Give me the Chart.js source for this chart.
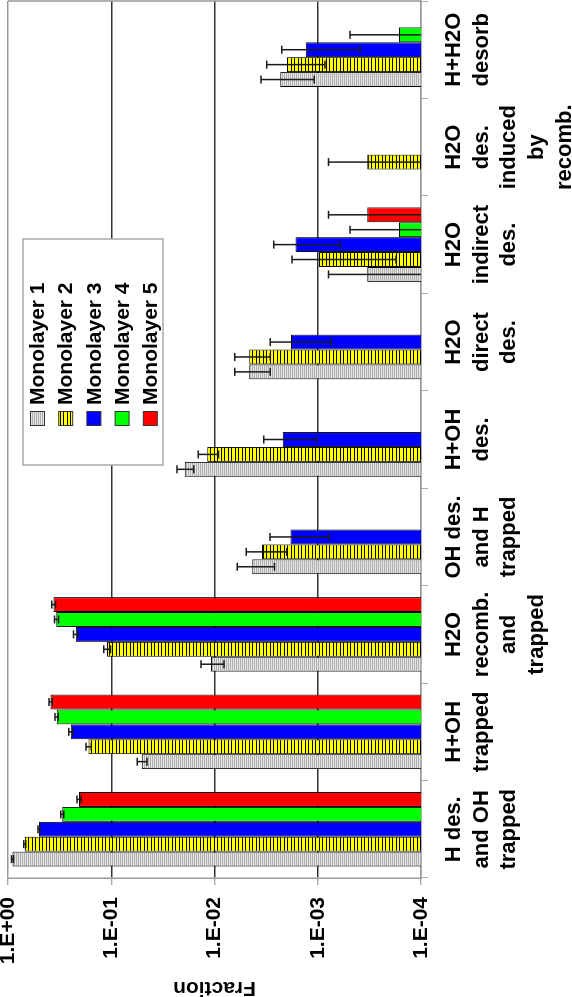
<!DOCTYPE html>
<html>
<head>
<meta charset="utf-8">
<style>
  html, body { margin: 0; padding: 0; background: #fff; overflow: hidden; }
  /* chart is drawn landscape and turned a quarter turn, like the original figure */
  #wrap { position: absolute; left: 0; top: 0; width: 997px; height: 572px;
          transform-origin: 0 0; transform: translate(0, 997px) rotate(-90deg); }
  canvas { display: block; }
</style>
<script src="https://cdn.jsdelivr.net/npm/chart.js@4.4.1/dist/chart.umd.min.js"></script>
</head>
<body>
<div id="wrap"><canvas id="fractionChart" width="997" height="572"></canvas></div>
<script>
// categories (multi-line labels)
const categories = [
  ["H des.", "and OH", "trapped"],
  ["H+OH", "trapped"],
  ["H2O", "recomb.", "and", "trapped"],
  ["OH des.", "and H", "trapped"],
  ["H+OH", "des."],
  ["H2O", "direct", "des."],
  ["H2O", "indirect", "des."],
  ["H2O", "des.", "induced", "by", "recomb."],
  ["H+H2O", "desorb"],
]

const seriesNames = ["Monolayer 1", "Monolayer 2", "Monolayer 3", "Monolayer 4", "Monolayer 5"]

// fractions per monolayer
const ml1 = [0.904, 0.0506, 0.0108, 0.00432, 0.01946, 0.00462, 0.000331, null, 0.00231]
const ml2 = [0.687, 0.166, 0.110, 0.00346, 0.01174, 0.00462, 0.000975, 0.000331, 0.00198]
const ml3 = [0.502, 0.247, 0.221, 0.00184, 0.00218, 0.00182, 0.00164, null, 0.00131]
const ml4 = [0.298, 0.338, 0.340, null, null, null, 0.000163, null, 0.000163]
const ml5 = [0.205, 0.387, 0.362, null, null, null, 0.000331, null, null]

// +/- error on each value
const err1 = [0.02, 0.0055, 0.0027, 0.0017, 0.0036, 0.00174, 0.000454, null, 0.00123]
const err2 = [0.015, 0.010, 0.0081, 0.00146, 0.0026, 0.00174, 0.0008, 0.000454, 0.00113]
const err3 = [0.01, 0.011, 0.0114, 0.00106, 0.00115, 0.00107, 0.00103, null, 0.00092]
const err4 = [0.01, 0.0128, 0.015, null, null, null, 0.000324, null, 0.000324]
const err5 = [0.01, 0.0147, 0.0145, null, null, null, 0.000454, null, null]

const tickValues = [1e-4, 1e-3, 1e-2, 1e-1, 1]
const tickLabels = ["1.E-04", "1.E-03", "1.E-02", "1.E-01", "1.E+00"]

const FONT = "'Liberation Sans', Arial, Helvetica, sans-serif"

function stripes(base, line, period, rows) {
  const c = document.createElement("canvas")
  c.width = 4
  c.height = period
  const g = c.getContext("2d")
  g.fillStyle = base
  g.fillRect(0, 0, 4, period)
  g.fillStyle = line
  rows.forEach((r) => g.fillRect(0, r, 4, 1))
  return g.createPattern(c, "repeat")
}

const grayFill = stripes("#e4e4e4", "#b0b0b0", 2, [0])
const yellowFill = stripes("#ffff00", "#000000", 7, [0, 4])
const fills = [grayFill, yellowFill, "#0000ff", "#00ff00", "#ff0000"]
const values = [ml1, ml2, ml3, ml4, ml5]
const errors = [err1, err2, err3, err4, err5]

const errorBars = {
  id: "errorBars",
  afterDatasetsDraw(chart) {
    const { ctx, chartArea, scales } = chart
    const y = scales.y
    ctx.save()
    ctx.beginPath()
    ctx.rect(chartArea.left, chartArea.top, chartArea.right - chartArea.left, chartArea.bottom - chartArea.top)
    ctx.clip()
    ctx.strokeStyle = "#1a1a1a"
    ctx.lineWidth = 1.5
    chart.data.datasets.forEach((ds, i) => {
      const meta = chart.getDatasetMeta(i)
      meta.data.forEach((bar, j) => {
        const v = ds.data[j]
        const e = ds.errors[j]
        if (v == null || e == null) return
        const hi = y.getPixelForValue(v + e)
        const lowOk = v - e > y.min
        const lo = lowOk ? y.getPixelForValue(v - e) : chartArea.bottom + 2
        ctx.beginPath()
        ctx.moveTo(bar.x, hi)
        ctx.lineTo(bar.x, lo)
        ctx.moveTo(bar.x - 4, hi)
        ctx.lineTo(bar.x + 4, hi)
        if (lowOk) {
          ctx.moveTo(bar.x - 4, lo)
          ctx.lineTo(bar.x + 4, lo)
        }
        ctx.stroke()
      })
    })
    ctx.restore()
  },
}

const frame = {
  id: "frame",
  beforeDatasetsDraw(chart) {
    const { ctx, chartArea } = chart
    ctx.save()
    ctx.strokeStyle = "#999"
    ctx.lineWidth = 1.5
    ctx.beginPath()
    ctx.moveTo(chartArea.right, chartArea.top)
    ctx.lineTo(chartArea.right, chartArea.bottom)
    ctx.stroke()
    ctx.restore()
  },
}

// boxed legend sitting inside the plot
const boxLegend = {
  id: "boxLegend",
  afterDraw(chart) {
    const ctx = chart.ctx
    ctx.save()
    ctx.fillStyle = "#fff"
    ctx.fillRect(532, 23, 226, 140)
    ctx.strokeStyle = "#aaa"
    ctx.lineWidth = 1.5
    ctx.strokeRect(532, 23, 226, 140)
    ctx.font = "bold 21px " + FONT
    ctx.textBaseline = "middle"
    chart.data.datasets.forEach((ds, i) => {
      const cy = 37.5 + i * 28.2
      ctx.fillStyle = ds.backgroundColor
      ctx.fillRect(571.5, cy - 7, 14, 14)
      ctx.strokeStyle = "#333"
      ctx.lineWidth = 1
      ctx.strokeRect(571.5, cy - 7, 14, 14)
      ctx.fillStyle = "#000"
      ctx.fillText(ds.label, 592, cy + 1)
    })
    ctx.restore()
  },
}

new Chart(document.getElementById("fractionChart"), {
  type: "bar",
  data: {
    labels: categories,
    datasets: seriesNames.map((name, i) => ({
      label: name,
      data: values[i],
      errors: errors[i],
      backgroundColor: fills[i],
      borderColor: "#000",
      borderWidth: 1,
      barPercentage: 1,
      categoryPercentage: 0.765,
    })),
  },
  options: {
    responsive: false,
    animation: false,
    devicePixelRatio: 1,
    layout: { padding: { top: 8, right: 1, left: 0, bottom: 0 } },
    plugins: { legend: { display: false }, tooltip: { enabled: false } },
    scales: {
      x: {
        grid: { offset: true, drawOnChartArea: false, tickLength: 7, color: "#aaa" },
        border: { color: "#999", width: 1.5 },
        ticks: {
          autoSkip: false, maxRotation: 0, minRotation: 0, padding: 12, color: "#000",
          font: { family: FONT, size: 22, weight: "bold", lineHeight: 1.26 },
        },
        afterFit(scale) {
          scale.height = 151
          scale.paddingLeft = 0
          scale.paddingRight = 0
        },
      },
      y: {
        type: "logarithmic",
        min: 1e-4,
        max: 1,
        afterBuildTicks(scale) {
          scale.ticks = tickValues.map((v) => ({ value: v }))
        },
        grid: {
          tickLength: 7,
          lineWidth: 1.4,
          color: (c) => (c.tick && (c.tick.value === 1 || c.tick.value === 1e-4) ? "#999" : "#333"),
          tickColor: "#aaa",
        },
        border: { color: "#999", width: 1.5 },
        ticks: {
          padding: 12,
          color: "#000",
          font: { family: FONT, size: 21, weight: "bold" },
          callback: (value, index) => tickLabels[index],
        },
        title: {
          display: true,
          text: "Fraction",
          color: "#000",
          padding: 0,
          font: { family: FONT, size: 21, weight: "bold", lineHeight: 0.85 },
        },
        afterFit(scale) {
          scale.width = 119
          scale.paddingTop = 0
          scale.paddingBottom = 0
        },
      },
    },
  },
  plugins: [frame, errorBars, boxLegend],
})
</script>
</body>
</html>
